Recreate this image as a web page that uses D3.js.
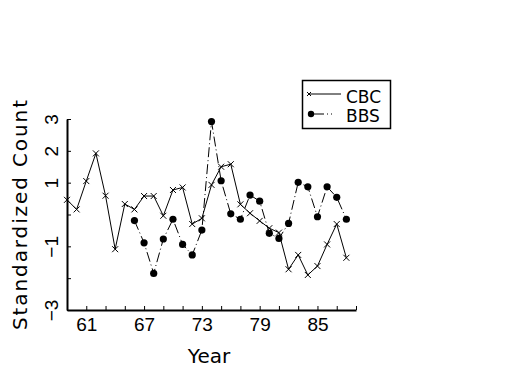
<!DOCTYPE html>
<html>
<head>
<meta charset="utf-8">
<script src="https://cdn.jsdelivr.net/npm/d3@7"></script>
<style>
  body { margin: 0; background: #fff; }
  svg { display: block; font-family: "DejaVu Sans", sans-serif; }
</style>
</head>
<body>
<svg id="chart" width="525" height="375"></svg>
<script>
const cbcYears = [59, 60, 61, 62, 63, 64, 65, 66, 67, 68, 69, 70, 71, 72, 73,
                  74, 75, 76, 77, 78, 79, 80, 81, 82, 83, 84, 85, 86, 87, 88];
const cbcValues = [0.46, 0.16, 1.05, 1.92, 0.59, -1.09, 0.33, 0.16, 0.58, 0.58, -0.04, 0.77, 0.85, -0.30, -0.12,
                   0.93, 1.50, 1.58, 0.32, 0.04, -0.20, -0.43, -0.57, -1.72, -1.27, -1.90, -1.62, -0.94, -0.30, -1.36];

const bbsYears = [66, 67, 68, 69, 70, 71, 72, 73, 74, 75, 76, 77,
                  78, 79, 80, 81, 82, 83, 84, 85, 86, 87, 88];
const bbsValues = [-0.19, -0.89, -1.85, -0.77, -0.15, -0.94, -1.27, -0.49, 2.92, 1.06, 0.02, -0.15,
                   0.61, 0.42, -0.59, -0.75, -0.28, 1.01, 0.87, -0.07, 0.87, 0.54, -0.15];

const xTickYears = [59, 61, 63, 65, 67, 69, 71, 73, 75, 77, 79, 81, 83, 85, 87, 89];
const xLabelYears = [61, 67, 73, 79, 85];
const yTicks = [-3, -2, -1, 0, 1, 2, 3];
const yLabels = [-3, -1, 1, 2, 3];

const svg = d3.select('#chart');

const x = d3.scaleLinear().domain([59, 89]).range([67, 356]);
const y = d3.scaleLinear().domain([-3, 3]).range([310, 119]);

// x axis, ticks pointing inward
const xAxis = svg.append('g')
  .attr('transform', 'translate(0,310)')
  .call(d3.axisBottom(x)
    .tickValues(xTickYears)
    .tickSizeInner(-4)
    .tickSizeOuter(0)
    .tickFormat(d => xLabelYears.includes(d) ? d : ''));
xAxis.select('.domain').attr('stroke-width', 2);
xAxis.selectAll('text')
  .attr('y', 21)
  .attr('dy', null)
  .style('font-size', '19px')
  .style('fill', '#000');

// y axis, rotated labels
const yAxis = svg.append('g')
  .attr('transform', 'translate(67,0)')
  .call(d3.axisLeft(y)
    .tickValues(yTicks)
    .tickSizeInner(-4)
    .tickSizeOuter(0)
    .tickFormat(d => yLabels.includes(d) ? (d < 0 ? '\u2212' + Math.abs(d) : d) : ''));
yAxis.select('.domain').attr('stroke-width', 2);
yAxis.selectAll('text')
  .attr('x', null)
  .attr('dy', null)
  .attr('text-anchor', 'middle')
  .attr('transform', 'translate(-9,0) rotate(-90)')
  .style('font-size', '19px')
  .style('fill', '#000');

svg.append('text')
  .attr('x', 209)
  .attr('y', 363)
  .attr('text-anchor', 'middle')
  .style('font-size', '20px')
  .text('Year');

svg.append('text')
  .attr('transform', 'translate(27,215) rotate(-90)')
  .attr('text-anchor', 'middle')
  .attr('textLength', 230)
  .attr('lengthAdjust', 'spacing')
  .style('font-size', '20px')
  .text('Standardized Count');

const cbc = cbcYears.map((yr, i) => ({ yr, v: cbcValues[i] }));
const bbs = bbsYears.map((yr, i) => ({ yr, v: bbsValues[i] }));

const line = d3.line().x(d => x(d.yr)).y(d => y(d.v));

svg.append('path')
  .datum(cbc)
  .attr('d', line)
  .attr('fill', 'none')
  .attr('stroke', '#000')
  .attr('stroke-width', 1);

svg.append('path')
  .datum(bbs)
  .attr('d', line)
  .attr('fill', 'none')
  .attr('stroke', '#000')
  .attr('stroke-width', 1)
  .attr('stroke-dasharray', '10,3,1,3');

function cross(g, cx, cy, r) {
  g.append('path')
    .attr('d', `M${cx - r},${cy - r}L${cx + r},${cy + r}M${cx - r},${cy + r}L${cx + r},${cy - r}`)
    .attr('stroke', '#000')
    .attr('stroke-width', 1);
}

const cbcMarks = svg.append('g');
cbc.forEach(d => cross(cbcMarks, x(d.yr), y(d.v), 3));

svg.append('g').selectAll('circle')
  .data(bbs)
  .enter().append('circle')
  .attr('cx', d => x(d.yr))
  .attr('cy', d => y(d.v))
  .attr('r', 3.6)
  .attr('fill', '#000');

// legend
const legend = svg.append('g');
legend.append('rect')
  .attr('x', 302.5).attr('y', 80.5)
  .attr('width', 88).attr('height', 48)
  .attr('fill', '#fff')
  .attr('stroke', '#000')
  .attr('stroke-width', 1.5);

legend.append('line')
  .attr('x1', 308).attr('x2', 341).attr('y1', 94).attr('y2', 94)
  .attr('stroke', '#000');
cross(legend, 309, 94, 2);
legend.append('text')
  .attr('x', 346).attr('y', 103)
  .style('font-size', '17px')
  .text('CBC');

legend.append('line')
  .attr('x1', 311).attr('x2', 341).attr('y1', 114).attr('y2', 114)
  .attr('stroke', '#000')
  .attr('stroke-dasharray', '13,3,1,3,1,20');
legend.append('circle')
  .attr('cx', 311).attr('cy', 114).attr('r', 3.2).attr('fill', '#000');
legend.append('text')
  .attr('x', 346).attr('y', 122)
  .style('font-size', '17px')
  .text('BBS');
</script>
</body>
</html>
